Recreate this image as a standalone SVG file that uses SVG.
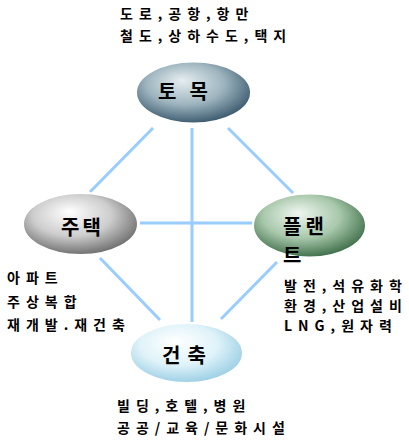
<svg xmlns="http://www.w3.org/2000/svg" width="409" height="440" viewBox="0 0 409 440">
<defs>
<radialGradient id="gTop" cx="0.45" cy="0.4" r="0.62" fx="0.4" fy="0.3">
<stop offset="0" stop-color="#e6eef1"/><stop offset="0.55" stop-color="#9db4be"/><stop offset="1" stop-color="#36556a"/>
</radialGradient>
<radialGradient id="gLeft" cx="0.45" cy="0.4" r="0.62" fx="0.4" fy="0.3">
<stop offset="0" stop-color="#ffffff"/><stop offset="0.55" stop-color="#cdcdcd"/><stop offset="1" stop-color="#696969"/>
</radialGradient>
<radialGradient id="gRight" cx="0.45" cy="0.4" r="0.62" fx="0.4" fy="0.3">
<stop offset="0" stop-color="#f0f6f0"/><stop offset="0.55" stop-color="#a8c8ab"/><stop offset="1" stop-color="#3a6a45"/>
</radialGradient>
<radialGradient id="gBottom" cx="0.45" cy="0.4" r="0.62" fx="0.4" fy="0.3">
<stop offset="0" stop-color="#ffffff"/><stop offset="0.55" stop-color="#e0f3f9"/><stop offset="1" stop-color="#98cde4"/>
</radialGradient>
</defs>
<style>
.ln{stroke:#99ccff;stroke-width:3;fill:none}
.nd{stroke:#ffffff;stroke-width:2}
.lbl{font-family:"Noto Sans CJK KR","Noto Sans",sans-serif;font-weight:bold;font-size:20px;fill:#000}
.txt{font-family:"Noto Sans CJK KR","Noto Sans",sans-serif;font-weight:bold;font-size:14px;letter-spacing:6px;fill:#000}
</style>
<rect width="409" height="440" fill="#ffffff"/>
<g id="connectors">
<line class="ln" x1="153" y1="128" x2="90" y2="192"/>
<line class="ln" x1="228" y1="128" x2="293" y2="193"/>
<line class="ln" x1="192" y1="128" x2="192" y2="322"/>
<line class="ln" x1="140" y1="223" x2="253" y2="223"/>
<line class="ln" x1="100" y1="258" x2="160" y2="320"/>
<line class="ln" x1="277" y1="262" x2="221" y2="319"/>
</g>
<g id="node-tomok">
<ellipse class="nd" cx="193.5" cy="92.5" rx="57.5" ry="31" fill="url(#gTop)"/>
<text class="lbl" x="158" y="99" letter-spacing="13">토목</text>
<text class="txt" x="120" y="19">도로,공항,항만</text>
<text class="txt" x="120" y="41">철도,상하수도,택지</text>
</g>
<g id="node-jutaek">
<ellipse class="nd" cx="80.5" cy="224" rx="57.5" ry="31" fill="url(#gLeft)"/>
<text class="lbl" x="61" y="235" letter-spacing="3">주택</text>
<text class="txt" x="7" y="283">아파트</text>
<text class="txt" x="7" y="307">주상복합</text>
<text class="txt" x="7" y="330">재개발.재건축</text>
</g>
<g id="node-plant">
<ellipse class="nd" cx="309.5" cy="225.5" rx="56.5" ry="32" fill="url(#gRight)"/>
<text class="lbl" x="283" y="234" letter-spacing="4">플랜</text>
<text class="lbl" x="283" y="263">트</text>
<text class="txt" x="284" y="291">발전,석유화학</text>
<text class="txt" x="284" y="311">환경,산업설비</text>
<text class="txt" x="284" y="331">LNG,원자력</text>
</g>
<g id="node-geonchuk">
<ellipse class="nd" cx="186.5" cy="353" rx="56.5" ry="30" fill="url(#gBottom)"/>
<text class="lbl" x="162" y="363" letter-spacing="7">건축</text>
<text class="txt" x="117" y="411">빌딩,호텔,병원</text>
<text class="txt" x="117" y="433">공공/교육/문화시설</text>
</g>
</svg>
